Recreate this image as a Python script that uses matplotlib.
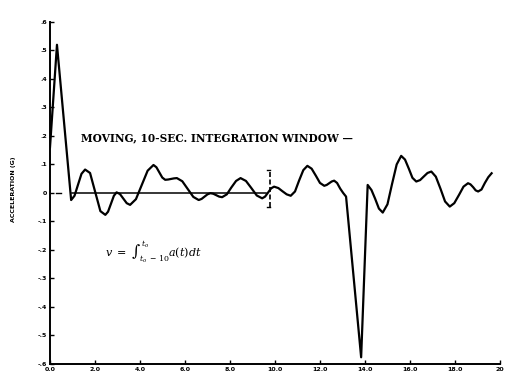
import numpy as np
import matplotlib.pyplot as plt

plt.rcParams["mathtext.fontset"] = "dejavuserif"

# acceleration trace (time in s, accel in G)
time_s = [0.00, 0.31, 0.94, 1.09, 1.25, 1.40, 1.56, 1.78, 2.01, 2.24,
          2.46, 2.58, 2.71, 2.84, 2.96, 3.11, 3.26, 3.41, 3.56, 3.82,
          4.08, 4.34, 4.60, 4.73, 4.86, 4.99, 5.12, 5.25, 5.38, 5.51,
          5.64, 5.88, 6.12, 6.37, 6.61, 6.74, 6.87, 7.00, 7.13, 7.26,
          7.39, 7.52, 7.65, 7.86, 8.06, 8.27, 8.47, 8.71, 8.95, 9.19,
          9.43, 9.56, 9.70, 9.83, 9.96, 10.15, 10.33, 10.52, 10.70, 10.89,
          11.07, 11.26, 11.44, 11.63, 11.82, 12.00, 12.19, 12.30, 12.41, 12.52,
          12.63, 12.76, 12.90, 13.03, 13.16, 13.83, 14.12, 14.29, 14.45, 14.62,
          14.79, 15.00, 15.20, 15.41, 15.61, 15.78, 15.95, 16.11, 16.28, 16.45,
          16.62, 16.78, 16.95, 17.15, 17.36, 17.56, 17.77, 17.97, 18.18, 18.38,
          18.58, 18.69, 18.81, 18.92, 19.03, 19.18, 19.33, 19.48, 19.63]
accel_g = [0.160, 0.520, -0.025, -0.010, 0.030, 0.067, 0.082, 0.070, 0.003, -0.064,
           -0.077, -0.066, -0.038, -0.010, 0.002, -0.004, -0.020, -0.036, -0.042, -0.022,
           0.028, 0.078, 0.098, 0.090, 0.072, 0.054, 0.046, 0.047, 0.049, 0.051,
           0.052, 0.041, 0.014, -0.014, -0.025, -0.021, -0.013, -0.005, -0.001, -0.003,
           -0.008, -0.013, -0.015, -0.005, 0.019, 0.042, 0.052, 0.042, 0.017, -0.009,
           -0.019, -0.013, 0.002, 0.016, 0.022, 0.017, 0.006, -0.005, -0.010, 0.005,
           0.043, 0.080, 0.095, 0.085, 0.060, 0.035, 0.025, 0.028, 0.034, 0.040,
           0.043, 0.035, 0.015, 0.000, -0.013, -0.577, 0.028, 0.010, -0.020, -0.055,
           -0.069, -0.040, 0.030, 0.100, 0.130, 0.117, 0.085, 0.053, 0.040, 0.045,
           0.058, 0.070, 0.075, 0.057, 0.014, -0.030, -0.048, -0.036, -0.007, 0.022,
           0.034, 0.030, 0.020, 0.009, 0.005, 0.012, 0.035, 0.055, 0.069]

x_ticks = [0, 2, 4, 6, 8, 10, 12, 14, 16, 18, 20]
x_labels = ["0.0", "2.0", "4.0", "6.0", "8.0", "10.0", "12.0", "14.0", "16.0", "18.0", "20"]
y_ticks = [-0.6, -0.5, -0.4, -0.3, -0.2, -0.1, 0.0, 0.1, 0.2, 0.3, 0.4, 0.5, 0.6]
y_labels = ["-.6", "-.5", "-.4", "-.3", "-.2", "-.1", "0", ".1", ".2", ".3", ".4", ".5", ".6"]

# 10 s window baseline and its right-hand bracket
window_start, window_end = 1.0, 9.6
bracket_t, bracket_lo, bracket_hi = 9.8, -0.05, 0.08

fig = plt.figure(figsize=(5.05, 3.79), dpi=100)
ax = fig.add_axes([0.099, 0.040, 0.891, 0.902])

ax.plot(time_s, accel_g, color="black", lw=1.6, solid_joinstyle="round")
ax.plot([window_start, window_end], [0, 0], color="black", lw=1.1)
ax.plot([0.25, 0.5], [0, 0], color="black", lw=1.0)
ax.plot([bracket_t, bracket_t], [bracket_lo, bracket_hi], color="black",
        lw=1.2, ls=(0, (3, 1.5)))
ax.plot([bracket_t - 0.15, bracket_t], [bracket_hi, bracket_hi], color="black", lw=1.0)
ax.plot([bracket_t - 0.15, bracket_t], [bracket_lo, bracket_lo], color="black", lw=1.0)

ax.text(1.38, 0.193, "MOVING, 10-SEC. INTEGRATION WINDOW \u2014", fontsize=7.6,
        fontweight="bold", family="DejaVu Serif", va="center", ha="left")
ax.text(4.6, -0.207, r"$v\ =\ \int_{t_o\,-\,10}^{t_o} a(t)dt$", fontsize=8,
        va="center", ha="center")

ax.set_xlim(0, 20)
ax.set_ylim(-0.6, 0.6)
ax.set_xticks(x_ticks)
ax.set_xticklabels(x_labels, fontsize=4.5, fontweight="bold")
ax.set_yticks(y_ticks)
ax.set_yticklabels(y_labels, fontsize=4.5, fontweight="bold")
ax.tick_params(direction="in", length=3, width=1.0, pad=2)

for side in ["top", "right"]:
    ax.spines[side].set_visible(False)
ax.spines["left"].set_linewidth(1.4)
ax.spines["bottom"].set_linewidth(1.4)

fig.text(0.026, 0.50, "ACCELERATION (G)", rotation=90, fontsize=4.5,
         fontweight="bold", va="center", ha="center")

fig.savefig("out.png", dpi=100)
